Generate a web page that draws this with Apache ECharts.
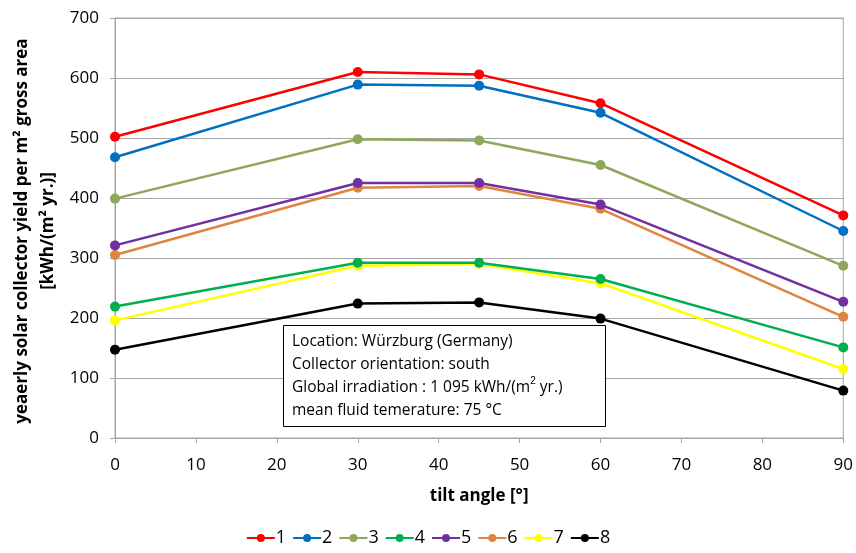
<!DOCTYPE html>
<html>
<head>
<meta charset="utf-8">
<script src="https://cdn.jsdelivr.net/npm/echarts@6/dist/echarts.min.js"></script>
<style>
  html, body { margin: 0; padding: 0; background: #fff; }
  #chart { width: 856px; height: 553px; }
</style>
</head>
<body>
<div id="chart"></div>
<script>
  // tilt angles [°]
  const tiltAngles = [0, 30, 45, 60, 90]

  // yearly yield per collector type [kWh/(m² yr.)]
  const seriesNames = ['1', '2', '3', '4', '5', '6', '7', '8']
  const yield1 = [502, 610, 606, 558, 371]
  const yield2 = [468, 589, 587, 542, 345]
  const yield3 = [399, 498, 496, 455, 287]
  const yield4 = [219, 292, 292, 265, 151]
  const yield5 = [321, 425, 425, 389, 227]
  const yield6 = [305, 417, 420, 382, 202]
  const yield7 = [196, 287, 290, 258, 115]
  const yield8 = [147, 224, 226, 199, 79]
  const allYields = [yield1, yield2, yield3, yield4, yield5, yield6, yield7, yield8]

  const colors = ['#ff0000', '#0070c0', '#8ea85a', '#00b050', '#7030a0', '#e0843f', '#ffff00', '#000000']

  const infoLines = [
    'Location: Würzburg (Germany)',
    'Collector orientation: south',
    'Global irradiation : 1 095 kWh/(m{sup|2} yr.)',
    'mean fluid temerature: 75 °C',
  ]

  const font = 'Open Sans, Liberation Sans, sans-serif'

  const chart = echarts.init(document.getElementById('chart'), null, {renderer: 'canvas'})

  const series = seriesNames.map((name, i) => ({
    name,
    type: 'line',
    data: tiltAngles.map((x, j) => [x, allYields[i][j]]),
    symbol: 'circle',
    symbolSize: 10,
    lineStyle: {width: 2.5, color: colors[i]},
    itemStyle: {color: colors[i]},
    z: 10 - i,
  }))

  const option = {
    animation: false,
    textStyle: {fontFamily: font},
    grid: {left: 115, right: 11, top: 18, bottom: 115, show: true, borderColor: '#a6a6a6', borderWidth: 1},
    legend: {
      bottom: 1,
      left: 'center',
      itemWidth: 28,
      itemHeight: 10,
      itemGap: 6,
      textStyle: {fontSize: 18, color: '#000', fontFamily: font, padding: [0, 0, 0, -4]},
      data: seriesNames,
    },
    xAxis: {
      type: 'value',
      min: 0,
      max: 90,
      interval: 10,
      name: 'tilt angle [°]',
      nameLocation: 'middle',
      nameGap: 50,
      nameTextStyle: {fontSize: 17, fontWeight: 'bold', color: '#000'},
      axisLine: {lineStyle: {color: '#a6a6a6', width: 1}},
      axisTick: {show: true, length: 5, lineStyle: {color: '#a6a6a6'}},
      axisLabel: {fontSize: 17, color: '#000', margin: 19},
      splitLine: {show: false},
    },
    yAxis: {
      type: 'value',
      min: 0,
      max: 700,
      interval: 100,
      axisLine: {show: true, lineStyle: {color: '#a6a6a6', width: 1}},
      axisTick: {show: true, length: 5, lineStyle: {color: '#a6a6a6'}},
      axisLabel: {fontSize: 17, color: '#000', margin: 16},
      splitLine: {show: true, lineStyle: {color: '#a6a6a6', width: 1}},
    },
    graphic: [
      {
        type: 'text',
        x: 35,
        y: 231,
        rotation: Math.PI / 2,
        style: {
          text: 'yeaerly solar collector yield per m² gross area\n[kWh/(m² yr.)]',
          fill: '#000',
          font: 'bold 17px ' + font,
          align: 'center',
          verticalAlign: 'middle',
          lineHeight: 26,
        },
        z: 100,
      },
      {
        type: 'rect',
        shape: {x: 283.5, y: 325.5, width: 322, height: 101},
        style: {fill: '#fff', stroke: '#000', lineWidth: 1},
        z: 50,
      },
      {
        type: 'text',
        x: 292,
        y: 330,
        z: 51,
        style: {
          text: infoLines.join('\n'),
          fill: '#000',
          font: '15.5px ' + font,
          lineHeight: 23,
          rich: {
            sup: {fontSize: 10, verticalAlign: 'top', padding: [0, 0, 8, 0], fill: '#000'},
          },
        },
      },
    ],
    series,
  }

  chart.setOption(option)
</script>
</body>
</html>
